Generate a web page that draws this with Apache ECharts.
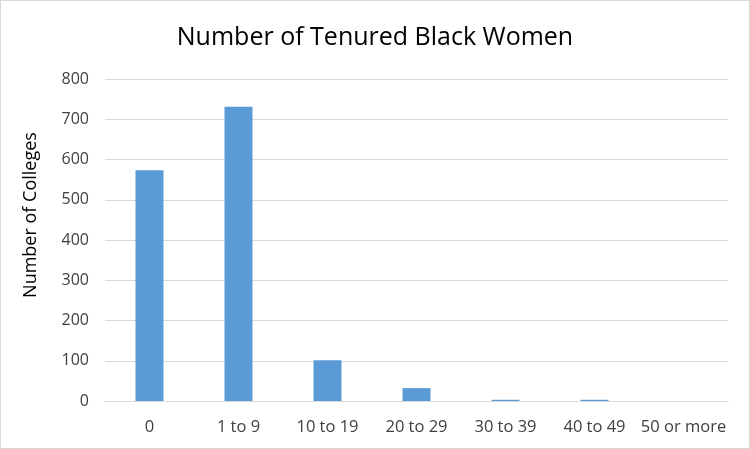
<!DOCTYPE html>
<html><head><meta charset="utf-8">
<script src="https://cdn.jsdelivr.net/npm/echarts@6/dist/echarts.min.js"></script>
<style>html,body{margin:0;padding:0;background:#fff}#c{width:750px;height:449px;box-sizing:border-box;border:1px solid #d9d9d9}</style>
</head><body><div id="c"></div>
<script>
const categories = ["0","1 to 9","10 to 19","20 to 29","30 to 39","40 to 49","50 or more"];
const values = [573, 731, 101, 32, 3, 3, 0];
const yTicks = [0,100,200,300,400,500,600,700,800];
const yTitle = "Number of Colleges";
const chart = echarts.init(document.getElementById('c'));
chart.setOption({
  animation:false,
  title:{text:"Number of Tenured Black Women",left:"center",top:19,textStyle:{fontFamily:"Open Sans",fontSize:25,fontWeight:"normal",color:"#000"}},
  grid:{left:104,right:21,top:78,bottom:47},
  xAxis:{type:"category",data:categories,axisTick:{show:false},axisLine:{lineStyle:{color:"#d9d9d9",width:1}},
    axisLabel:{interval:0,color:"#404040",fontFamily:"Open Sans",fontSize:16.5,margin:18}},
  yAxis:{type:"value",min:0,max:800,interval:100,
    axisLine:{show:false},axisTick:{show:false},
    axisLabel:{color:"#404040",fontFamily:"Open Sans",fontSize:16,margin:16},
    splitLine:{lineStyle:{color:"#d9d9d9",width:1}}},
  graphic:[{type:"text",x:30,y:214,rotation:Math.PI/2,style:{text:yTitle,fill:"#000",font:"18px 'Open Sans'",textAlign:"center",textVerticalAlign:"middle"}}],
  series:[{type:"bar",data:values,barWidth:28,itemStyle:{color:"#5b9bd5"}}]
});
</script></body></html>
